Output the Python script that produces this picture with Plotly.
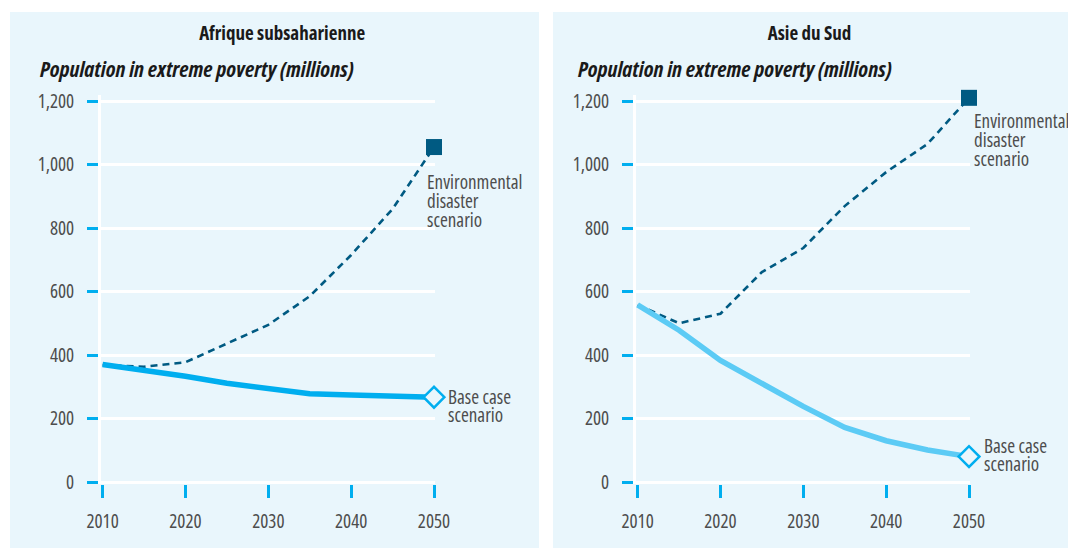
import plotly.graph_objects as go

# Years on the horizontal axis
years = [2010, 2015, 2020, 2025, 2030, 2035, 2040, 2045, 2050]
year_ticks = [2010, 2020, 2030, 2040, 2050]
year_labels = ["2010", "2020", "2030", "2040", "2050"]

# Population in extreme poverty (millions)
africa_base = [370, 352, 333, 311, 296, 278, 274, 271, 267]
africa_disaster = [368, 363, 377, 435, 495, 585, 715, 860, 1055]
asia_base = [558, 478, 383, 310, 238, 172, 130, 101, 80]
asia_disaster = [558, 500, 530, 661, 737, 869, 976, 1065, 1210]

y_ticks = [0, 200, 400, 600, 800, 1000, 1200]

panel_titles = ["Afrique subsaharienne", "Asie du Sud"]
subtitle = "Population in extreme poverty (millions)"
disaster_label = ["Environmental", "disaster", "scenario"]
base_label = ["Base case", "scenario"]

W, H = 1068, 548
FONT = "Open Sans, Noto Sans, sans-serif"
PANEL_BG = "#e9f6fc"
DARK = "#005a82"
CYAN = "#00aeef"
LIGHT_CYAN = "#5ccbf5"
TEXT = "#4d4d4d"
TITLE = "#1a1a1a"
LABEL_PX = 19  # glyph size of the scenario labels


def fx(px):
    return px / W


def fy(py):
    return (H - py) / H


def stacked(lines):
    # lines are set at LABEL_PX inside a text whose own size fixes the leading
    return "<br>".join('<span style="font-size:%dpx">%s</span>' % (LABEL_PX, t)
                       for t in lines)


fig = go.Figure()

panels = [
    dict(base=africa_base, dis=africa_disaster, base_col=CYAN,
         x0=101, x1=435, xa="x", ya="y",
         title_x=282, sub_x=38, panel=(10, 539),
         dis_shift=(-9, -54), base_shift=(12, -9)),
    dict(base=asia_base, dis=asia_disaster, base_col=LIGHT_CYAN,
         x0=636, x1=970, xa="x2", ya="y2",
         title_x=809, sub_x=576, panel=(553, 1068),
         dis_shift=(3, -42), base_shift=(13, 2)),
]

px_per_year = (434 - 102.6) / 40.0
px_per_unit = 0.3175
zero_px = 482.0
y_range = [-5, 1220]
y_bot_px = zero_px - y_range[0] * px_per_unit
y_top_px = zero_px - y_range[1] * px_per_unit

shapes = []
annotations = []
layout_axes = {}

for i, p in enumerate(panels):
    n = "" if i == 0 else str(i + 1)
    # panel background
    shapes.append(dict(type="rect", xref="paper", yref="paper",
                       x0=fx(p["panel"][0]), x1=fx(p["panel"][1]),
                       y0=0, y1=fy(12), fillcolor=PANEL_BG,
                       line=dict(width=0), layer="below"))

    first_px = p["x0"] + 1.6
    xr = [2010 - (first_px - p["x0"]) / px_per_year,
          2010 + (p["x1"] - first_px) / px_per_year]

    layout_axes["xaxis" + n] = dict(
        domain=[fx(p["x0"]), fx(p["x1"])], range=xr, anchor="y" + n,
        showgrid=False, zeroline=False, showline=False, automargin=False,
        tickmode="array", tickvals=year_ticks, ticktext=year_labels,
        ticks="outside", ticklen=13, tickwidth=3, tickcolor=CYAN,
        tickfont=dict(family=FONT, size=19, color=TEXT),
        ticklabelstandoff=8, fixedrange=True)
    layout_axes["yaxis" + n] = dict(
        domain=[fy(y_bot_px), fy(y_top_px)], range=y_range, anchor="x" + n,
        showgrid=True, gridcolor="white", gridwidth=3, zeroline=False,
        showline=True, linecolor="white", linewidth=3, automargin=False,
        tickmode="array", tickvals=y_ticks, tickformat=",d",
        ticks="outside", ticklen=11, tickwidth=3, tickcolor=CYAN,
        tickfont=dict(family=FONT, size=19, color=TEXT),
        ticklabelstandoff=9, fixedrange=True)

    # disaster scenario: dashed line with square end marker
    fig.add_trace(go.Scatter(x=years, y=p["dis"], mode="lines",
                             line=dict(color=DARK, width=2.6, dash="7px,5px"),
                             xaxis=p["xa"], yaxis=p["ya"], hoverinfo="skip",
                             cliponaxis=False, showlegend=False))
    fig.add_trace(go.Scatter(x=[years[-1]], y=[p["dis"][-1]], mode="markers",
                             marker=dict(symbol="square", size=16, color=DARK,
                                         line=dict(width=0)),
                             xaxis=p["xa"], yaxis=p["ya"], hoverinfo="skip",
                             cliponaxis=False, showlegend=False))
    # base case: thick solid line with open diamond end marker
    fig.add_trace(go.Scatter(x=years, y=p["base"], mode="lines",
                             line=dict(color=p["base_col"], width=5.5),
                             xaxis=p["xa"], yaxis=p["ya"], hoverinfo="skip",
                             cliponaxis=False, showlegend=False))
    fig.add_trace(go.Scatter(x=[years[-1]], y=[p["base"][-1]], mode="markers",
                             marker=dict(symbol="diamond", size=16, color=PANEL_BG,
                                         line=dict(width=2.5, color=CYAN)),
                             xaxis=p["xa"], yaxis=p["ya"], hoverinfo="skip",
                             cliponaxis=False, showlegend=False))

    # panel title and subtitle
    annotations.append(dict(text="<b>" + panel_titles[i] + "</b>",
                            xref="paper", yref="paper", x=fx(p["title_x"]), y=fy(33),
                            xanchor="center", yanchor="middle", showarrow=False,
                            font=dict(family=FONT, size=19, color=TITLE)))
    annotations.append(dict(text="<b><i>" + subtitle + "</i></b>",
                            xref="paper", yref="paper", x=fx(p["sub_x"]), y=fy(68),
                            xanchor="left", yanchor="middle", align="left",
                            showarrow=False,
                            font=dict(family=FONT, size=22, color=TITLE)))

    # scenario labels next to the end markers (leading: 19px and 18px)
    dx, dy = p["dis_shift"]
    annotations.append(dict(text=stacked(disaster_label), xref=p["xa"], yref=p["ya"],
                            x=years[-1], y=p["dis"][-1], xshift=dx, yshift=dy,
                            xanchor="left", yanchor="middle", align="left",
                            showarrow=False,
                            font=dict(family=FONT, size=19 / 1.3, color=TEXT)))
    dx, dy = p["base_shift"]
    annotations.append(dict(text=stacked(base_label), xref=p["xa"], yref=p["ya"],
                            x=years[-1], y=p["base"][-1], xshift=dx, yshift=dy,
                            xanchor="left", yanchor="middle", align="left",
                            showarrow=False,
                            font=dict(family=FONT, size=18 / 1.3, color=TEXT)))

fig.update_layout(
    width=W, height=H, margin=dict(l=0, r=0, t=0, b=0, pad=0),
    paper_bgcolor="white", plot_bgcolor=PANEL_BG,
    shapes=shapes, annotations=annotations, showlegend=False,
    **layout_axes)

# page set-up: no body margin; narrow faces for all chart text
page_js = (
    "document.body.style.margin='0';"
    "document.documentElement.style.overflow='hidden';"
    "var s=document.createElement('style');"
    "s.textContent='.main-svg text{font-stretch:75%;}';"
    "document.head.appendChild(s);"
)
fig.write_html("out.html", config={"displayModeBar": False}, post_script=page_js)
